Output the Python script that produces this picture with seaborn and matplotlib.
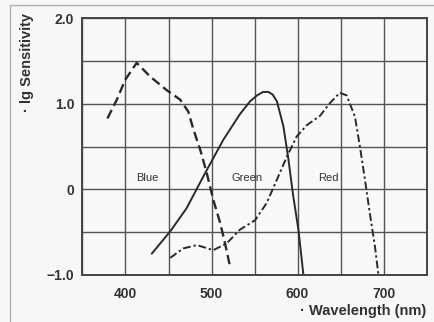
import matplotlib
matplotlib.use("Agg")
import matplotlib.pyplot as plt
import seaborn as sns
import pandas as pd
from matplotlib.patches import Rectangle

blue_x = [379, 390, 399.6, 413, 428.6, 448, 463.5, 473, 479, 487, 494.5, 502, 510, 515.7, 521.5]
blue_y = [0.83, 1.05, 1.28, 1.48, 1.32, 1.16, 1.05, 0.91, 0.70, 0.46, 0.19, -0.12, -0.39, -0.63, -0.90]

green_x = [430.6, 452, 471, 492.5, 513.7, 533, 544.8, 553, 560, 566, 571, 576, 583.5, 589, 595, 601, 606.7]
green_y = [-0.75, -0.49, -0.22, 0.19, 0.58, 0.88, 1.03, 1.10, 1.14, 1.14, 1.11, 1.03, 0.74, 0.38, -0.08, -0.47, -0.99]

red_x = [452, 467, 483, 502, 517.7, 533, 550.6, 564, 575.8, 587.4, 599, 610.6, 626, 637.7, 649, 657, 666.7, 672.5, 678.4, 684, 690, 694]
red_y = [-0.80, -0.69, -0.65, -0.71, -0.63, -0.47, -0.36, -0.16, 0.11, 0.38, 0.62, 0.75, 0.86, 1.01, 1.13, 1.10, 0.85, 0.50, 0.11, -0.28, -0.67, -1.0]

labels = ["Blue", "Green", "Red"]
label_x = [425, 541, 636]
label_y = [0.13, 0.13, 0.13]

x_ticks = [400, 500, 600, 700]
y_ticks = [-1.0, 0, 1.0, 2.0]
y_tick_labels = ["\u22121.0", "0", "1.0", "2.0"]

sns.set_theme(style="white")
plt.rcParams['font.family'] = ['Liberation Sans', 'DejaVu Sans']

fig = plt.figure(figsize=(4.34, 3.22), dpi=100)
fig.patch.set_facecolor("#f7f7f7")
fig.patches.append(Rectangle((10/434, -0.1), 1.2, (322-5)/322 + 0.1, transform=fig.transFigure,
                             fill=False, edgecolor="#b0b0b0", linewidth=1.0))
ax = fig.add_axes([0.190, 0.146, 0.793, 0.797])
ax.set_facecolor("#f9f9f9")

df_b = pd.DataFrame({"x": blue_x, "y": blue_y})
df_g = pd.DataFrame({"x": green_x, "y": green_y})
df_r = pd.DataFrame({"x": red_x, "y": red_y})

sns.lineplot(data=df_b, x="x", y="y", ax=ax, color="#2a2a2a", linewidth=1.7,
             linestyle=(0, (4, 2)), sort=False)
sns.lineplot(data=df_g, x="x", y="y", ax=ax, color="#2a2a2a", linewidth=1.4, sort=False)
sns.lineplot(data=df_r, x="x", y="y", ax=ax, color="#2a2a2a", linewidth=1.4,
             linestyle=(0, (4, 1.5, 1.2, 1.5)), sort=False)

for t, lx, ly in zip(labels, label_x, label_y):
    ax.text(lx, ly, t, fontsize=8, color="#333333", ha="center", va="center")

ax.set_xlim(350, 750)
ax.set_ylim(-1.0, 2.0)
ax.set_xticks([350 + 50 * i for i in range(9)], minor=True)
ax.set_yticks([-1.0 + 0.5 * i for i in range(7)], minor=True)
ax.set_xticks(x_ticks)
ax.set_xticklabels([str(v) for v in x_ticks])
ax.set_yticks(y_ticks)
ax.set_yticklabels(y_tick_labels)
ax.grid(True, which="both", color="#555555", linewidth=1.0)
ax.tick_params(which="both", length=0, labelsize=10, colors="#333333")
ax.tick_params(axis="x", pad=9)
ax.tick_params(axis="y", pad=6)
for lab in ax.get_xticklabels() + ax.get_yticklabels():
    lab.set_fontweight("bold")
for s in ax.spines.values():
    s.set_color("#444444")
    s.set_linewidth(1.4)
    s.set_visible(True)

ax.set_xlabel("")
ax.set_ylabel("")
fig.text(0.983, 0.035, "\u00b7 Wavelength (nm)", ha="right", va="center", fontsize=10.5,
         fontweight="bold", color="#333333")
fig.text(0.062, 0.96, "\u00b7 lg Sensitivity", ha="center", va="top", rotation=90,
         fontsize=10.5, fontweight="bold", color="#333333")

fig.savefig("out.png", dpi=100, facecolor=fig.get_facecolor())
